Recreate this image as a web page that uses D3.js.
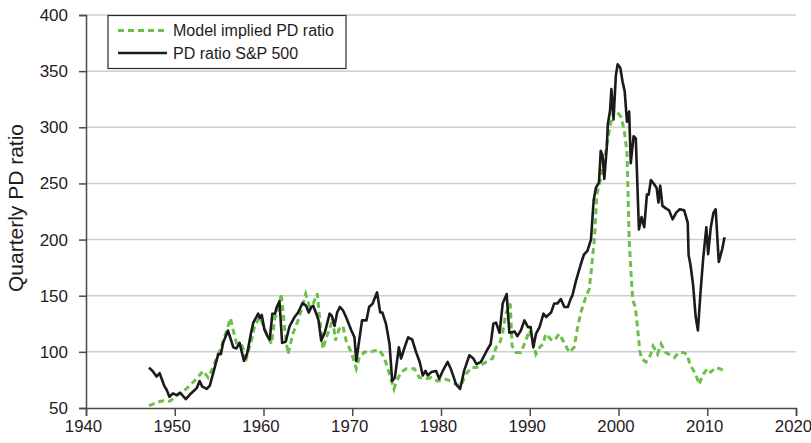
<!DOCTYPE html>
<html>
<head>
<meta charset="utf-8">
<script src="https://cdn.jsdelivr.net/npm/d3@7"></script>
<style>
  html, body { margin: 0; padding: 0; background: #fff; }
  svg { display: block; font-family: "Liberation Sans", Arial, Helvetica, sans-serif; }
</style>
</head>
<body>
<svg id="chart" width="811" height="443"></svg>
<script>
// ---- Data ----
const xTicks = [1940, 1950, 1960, 1970, 1980, 1990, 2000, 2010, 2020];
const yTicks = [50, 100, 150, 200, 250, 300, 350, 400];
const seriesNames = ["Model implied PD ratio", "PD ratio S&P 500"];

const spYears = [1947.1,1947.5,1947.95,1948.3,1948.8,1949.1,1949.4,1949.8,1950.2,1950.6,1950.9,1951.25,1951.7,1952.25,1952.5,1952.8,1953.1,1953.6,1953.95,1954.4,1954.9,1955.2,1955.45,1956.0,1956.6,1956.95,1957.3,1957.8,1958.15,1958.6,1958.85,1959.4,1959.6,1959.8,1960.1,1960.5,1960.7,1961.0,1961.3,1961.5,1961.8,1962.1,1962.5,1962.95,1963.5,1963.9,1964.4,1964.8,1965.1,1965.4,1965.6,1965.95,1966.2,1966.5,1966.9,1967.1,1967.45,1967.7,1968.0,1968.3,1968.6,1968.95,1969.3,1969.9,1970.25,1970.45,1970.8,1971.1,1971.6,1971.9,1972.3,1972.8,1973.15,1973.4,1973.8,1974.2,1974.5,1974.8,1975.25,1975.5,1975.9,1976.3,1976.75,1977.2,1977.6,1977.95,1978.25,1978.5,1978.9,1979.45,1979.8,1980.2,1980.75,1981.1,1981.7,1982.15,1982.6,1983.2,1983.65,1984.0,1984.5,1984.9,1985.15,1985.6,1985.9,1986.2,1986.6,1986.95,1987.4,1987.7,1988.3,1988.6,1989.0,1989.4,1989.8,1990.1,1990.4,1990.7,1991.1,1991.55,1991.85,1992.4,1992.75,1993.1,1993.5,1993.9,1994.3,1994.6,1994.8,1995.2,1995.75,1996.1,1996.5,1996.9,1997.2,1997.45,1997.8,1998.0,1998.2,1998.4,1998.68,1998.8,1999.05,1999.2,1999.44,1999.7,1999.9,2000.2,2000.45,2000.7,2000.95,2001.2,2001.38,2001.7,2001.95,2002.3,2002.6,2002.9,2003.2,2003.4,2003.65,2004.0,2004.3,2004.5,2004.7,2004.95,2005.3,2005.7,2006.1,2006.5,2006.9,2007.4,2007.8,2007.9,2008.1,2008.4,2008.7,2008.95,2009.25,2009.55,2009.9,2010.1,2010.4,2010.7,2010.95,2011.3,2011.7,2011.95];
const spValues = [86,83,78,81,70,66,60,63,61.5,63.6,61,58,62,66,68,74,69,67,70,83,98,98,108,119,104,103,108,92,98,117,126,134,130,133,120,113,111,134,134,140,145,108,109,123,131,135,143.5,141,135,140,141,134,128,110,117,123,134,132,123,135,140,137,131,119,113,92,111,128,128,140,143,153,135,135,125,107,74,77,104,94,104,113,111,99.5,91,79,83,79,82,83,76,83,91,85,71,67,83,97,94,89,91,97,101,107,125,126,117,143,151.5,117,118,114,119,128,122,122,104,116,122,134,131,135,143,143,147,140,140,147,150,163,178,186.5,190,200,235,246,251,279,275,254,282,303,315,334,307,346,356,353,341,332,305,314,268,292,290,209,220,211,240,240,253,249.5,246,233,248,230,228,226,218,224,227,226,215,186,178,160,131,119,154,184,211,187,211,224,227,180,192,202];

const modelYears = [1947.1,1947.95,1948.7,1949.45,1950.2,1951.3,1952.45,1953.2,1953.77,1954.3,1955.07,1955.6,1956.28,1956.5,1956.95,1957.5,1958.1,1958.64,1959.0,1959.57,1960.0,1960.5,1960.9,1961.3,1961.65,1962.0,1962.4,1962.77,1963.3,1963.9,1964.4,1964.75,1965.2,1965.6,1966.06,1966.3,1966.7,1967.07,1967.45,1967.8,1968.1,1968.5,1968.95,1969.3,1969.9,1970.45,1970.8,1971.4,1971.95,1972.5,1973.07,1973.6,1974.2,1974.7,1974.95,1975.5,1976.1,1977.0,1977.57,1978.3,1978.9,1979.6,1980.4,1981.1,1981.7,1982.26,1982.8,1983.4,1984.0,1984.5,1985.1,1985.8,1986.2,1986.6,1986.95,1987.3,1987.8,1988.0,1988.45,1989.0,1989.6,1989.95,1990.3,1990.7,1991.1,1991.5,1991.8,1992.4,1992.76,1993.3,1993.9,1994.45,1995.0,1995.4,1995.76,1996.3,1996.7,1996.9,1997.3,1997.56,1998.0,1998.4,1998.76,1999.1,1999.5,1999.9,2000.3,2000.65,2000.95,2001.05,2001.2,2001.4,2001.6,2001.9,2002.1,2002.4,2002.6,2003.1,2003.6,2003.9,2004.4,2004.8,2005.3,2005.9,2006.3,2006.8,2007.3,2007.7,2008.1,2008.7,2009.1,2009.45,2010.0,2010.4,2010.95,2011.4,2011.95];
const modelValues = [52,55,56.5,56,61,67,76,83,77,86,101,113,130,122,108,107,95,110,123,131,123,113,107,131,134,152,119,98,116,128,141,151.5,140,143,152,132,102.5,113,120,130,110,120,123,110,99.5,85,95,100,99.5,101,101.6,95,80,67,73,82,85,85,77,76,77,74,76,74,71,70,80,86,86,88,91,94,104,107,117,134,143,105.5,99.5,99.5,111,119,111,98,104,107,116,111,110,116,108,99.5,104,122,135,148.5,156,170,202,240,255,270,288,303,315,313,309,297,278,250,200,172,146,140,125,101,94,91,97,105,98,107,99.5,97,95,99.5,99.5,98,88,80,71,79,85,82,86,85,83];

// ---- Layout ----
const svg = d3.select("#chart");
const plotLeft = 86, plotRight = 796, plotTop = 15, plotBottom = 408;

const x = d3.scaleLinear().domain([1940, 2020]).range([plotLeft, plotRight]);
const y = d3.scaleLinear().domain([50, 400]).range([plotBottom, plotTop]);

const textColor = "#1f1c1d";
const axisColor = "#4a4a4a";

// gridlines
svg.append("g")
  .selectAll("line")
  .data(yTicks.filter(d => d > 50))
  .join("line")
  .attr("x1", plotLeft).attr("x2", plotRight)
  .attr("y1", d => y(d)).attr("y2", d => y(d))
  .attr("stroke", "#cfcfcf").attr("stroke-width", 1.5);

// y axis
const yAxis = svg.append("g")
  .attr("transform", `translate(${plotLeft},0)`)
  .call(d3.axisLeft(y).tickValues(yTicks).tickSize(7).tickPadding(11).tickFormat(d3.format("d")));
yAxis.select(".domain").attr("stroke", axisColor).attr("stroke-width", 1.5);
yAxis.selectAll(".tick line").attr("stroke", axisColor).attr("stroke-width", 1.5);
yAxis.selectAll(".tick text").attr("fill", textColor).style("font-size", "17px")
  .style("font-family", '"Liberation Sans", Arial, sans-serif');

// x axis
const xAxis = svg.append("g")
  .attr("transform", `translate(0,${plotBottom})`)
  .call(d3.axisBottom(x).tickValues(xTicks).tickSize(8).tickPadding(4).tickFormat(d3.format("d")));
xAxis.select(".domain").attr("stroke", axisColor).attr("stroke-width", 1.5);
xAxis.selectAll(".tick line").attr("stroke", axisColor).attr("stroke-width", 1.5);
xAxis.selectAll(".tick text").attr("fill", textColor).style("font-size", "16.8px")
  .attr("dx", -3)
  .style("font-family", '"Liberation Sans", Arial, sans-serif');

// y title
svg.append("text")
  .attr("transform", `translate(23,208) rotate(-90)`)
  .attr("text-anchor", "middle")
  .attr("fill", textColor)
  .style("font-size", "21px")
  .text("Quarterly PD ratio");

// lines
const line = d3.line().x(d => x(d[0])).y(d => y(d[1]));
const modelData = modelYears.map((yr, i) => [yr, modelValues[i]]);
const spData = spYears.map((yr, i) => [yr, spValues[i]]);

const green = "#6cc04a";
const black = "#1c1a1b";

svg.append("path")
  .datum(modelData)
  .attr("d", line)
  .attr("fill", "none")
  .attr("stroke", green)
  .attr("stroke-width", 3)
  .attr("stroke-dasharray", "6,4");

svg.append("path")
  .datum(spData)
  .attr("d", line)
  .attr("fill", "none")
  .attr("stroke", black)
  .attr("stroke-width", 2.6)
  .attr("stroke-linejoin", "round");

// legend
const lg = svg.append("g");
lg.append("rect")
  .attr("x", 108).attr("y", 15.5).attr("width", 238).attr("height", 53)
  .attr("fill", "#fff").attr("stroke", "#2a2a2a").attr("stroke-width", 1.2);
const legendItems = [
  { name: seriesNames[0], color: green, dash: "6,4", w: 3, yy: 30.5 },
  { name: seriesNames[1], color: black, dash: null, w: 2.6, yy: 53 }
];
legendItems.forEach(it => {
  lg.append("line")
    .attr("x1", 118).attr("x2", 167).attr("y1", it.yy).attr("y2", it.yy)
    .attr("stroke", it.color).attr("stroke-width", it.w)
    .attr("stroke-dasharray", it.dash);
  lg.append("text")
    .attr("x", 173).attr("y", it.yy + 5.5)
    .attr("fill", textColor)
    .style("font-size", "16px")
    .text(it.name);
});
</script>
</body>
</html>
